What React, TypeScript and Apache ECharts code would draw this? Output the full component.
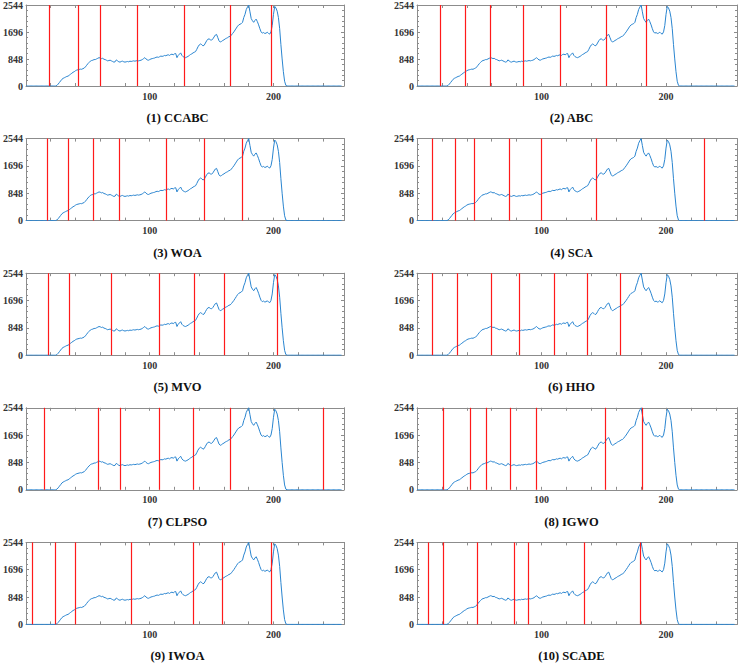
import React, { useEffect, useRef } from "react";
import * as echarts from "echarts";

// Histogram counts for gray levels 0..255
const histogram: number[] = [
  0, 0, 0, 0, 0, 0, 0, 0, 0, 0, 0, 0, 0, 0, 0, 0, 0, 0, 0, 0, 0, 0, 0, 0, 0,
  20, 60, 110, 160, 210, 240, 260, 280, 300, 310, 340,
  370, 400, 430, 450, 480, 500, 510, 520, 530, 525,
  545, 560, 600, 650, 700, 740, 780, 800, 810, 830,
  830, 850, 870, 890, 880, 860, 870, 840, 830, 810,
  790, 800, 810, 790, 770, 750, 760, 820, 790, 760,
  750, 770, 780, 760, 750, 760, 770, 760, 780, 770,
  780, 790, 780, 790, 800, 790, 800, 810, 830, 860,
  890, 850, 820, 810, 830, 850, 860, 870, 880, 900,
  910, 900, 920, 940, 930, 940, 960, 950, 970, 980,
  960, 990, 1000, 980, 1010, 1020, 890, 960, 1000, 1040,
  960, 920, 900, 890, 910, 930, 960, 990, 1010, 1040,
  1060, 1080, 1150, 1230, 1290, 1320, 1300, 1260, 1280, 1350,
  1420, 1470, 1480, 1450, 1440, 1480, 1540, 1600, 1620, 1520,
  1420, 1380, 1400, 1430, 1450, 1480, 1500, 1520, 1550, 1560,
  1600, 1650, 1700, 1760, 1820, 1880, 1920, 1940, 1960, 2000,
  2150, 2250, 2400, 2480, 2544, 2330, 2120, 2050, 2000, 2060,
  2100, 2020, 1920, 1800, 1700, 1660, 1680, 1650, 1660, 1690,
  1650, 1630, 1700, 1900, 2250, 2500, 2450, 2350, 2150, 1800,
  1300, 850, 450, 150, 20, 0, 0, 0, 0, 0,
  0, 0, 0, 0, 0, 0, 0, 0, 0, 0, 0, 0, 0, 0, 0, 0, 0, 0, 0, 0,
  0, 0, 0, 0, 0, 0, 0, 0, 0, 0, 0, 0, 0, 0, 0, 0, 0, 0, 0, 0,
];

const panelTitles: string[] = [
  "(1) CCABC", "(2) ABC", "(3) WOA", "(4) SCA", "(5) MVO",
  "(6) HHO", "(7) CLPSO", "(8) IGWO", "(9) IWOA", "(10) SCADE",
];

const thresholds: number[][] = [
  [19, 42, 60, 90, 128, 165, 198],
  [19, 39, 59, 85, 115, 152, 184],
  [17, 34, 54, 75, 113, 144, 175],
  [12, 31, 46, 74, 100, 144, 231],
  [18, 35, 69, 108, 136, 160, 203],
  [12, 32, 60, 82, 110, 137, 163],
  [15, 58, 76, 108, 135, 165, 240],
  [21, 43, 56, 75, 96, 151, 181],
  [5, 24, 40, 85, 135, 159, 198],
  [9, 21, 48, 78, 89, 134, 179],
];

const yTicks: number[] = [0, 848, 1696, 2544];
const xLabelValues: number[] = [100, 200];

const X_MAX = 257;
const Y_MAX = 2544;

export default function App() {
  const ref = useRef<HTMLDivElement>(null);

  useEffect(() => {
    if (!ref.current) return;
    const chart = echarts.init(ref.current, undefined, { renderer: "svg" });

    const frame = "#8c8c8c";
    const font = "'Liberation Serif', 'Times New Roman', 'DejaVu Serif', serif";
    const colLeft = [23, 417];
    const plotW = 321;
    const plotH = 82;
    const rowTop = (r: number) => 4 + r * 134.6;

    const grids: any[] = [];
    const xAxes: any[] = [];
    const yAxes: any[] = [];
    const series: any[] = [];
    const graphics: any[] = [];

    const histData = histogram.map((v, i) => [i, v]);

    panelTitles.forEach((title, i) => {
      const col = i % 2;
      const row = Math.floor(i / 2);
      const left = colLeft[col];
      const top = rowTop(row);
      grids.push({ left, top, width: plotW, height: plotH, containLabel: false });

      const tickStyle = { show: true, inside: true, length: 3, lineStyle: { color: frame, width: 1 } };
      const lineStyle = { show: true, onZero: false, lineStyle: { color: frame, width: 1 } };
      const minor = { show: true, splitNumber: 5, length: 2, lineStyle: { color: frame, width: 1 } };

      xAxes.push({
        type: "value", gridIndex: i, position: "bottom", min: 0, max: X_MAX, interval: 20,
        axisLine: lineStyle, axisTick: tickStyle, splitLine: { show: false },
        axisLabel: {
          show: true, margin: 5, fontSize: 10, fontFamily: font, fontWeight: "bold", color: "#333",
          formatter: (v: number) => (xLabelValues.includes(v) ? String(v) : ""),
        },
      });
      xAxes.push({
        type: "value", gridIndex: i, position: "top", min: 0, max: X_MAX, interval: 20,
        axisLine: lineStyle, axisTick: tickStyle, splitLine: { show: false },
        axisLabel: { show: false },
      });
      yAxes.push({
        type: "value", gridIndex: i, position: "left", min: 0, max: Y_MAX, interval: yTicks[1],
        axisLine: lineStyle, axisTick: tickStyle, minorTick: minor,
        splitLine: { show: false },
        axisLabel: {
          show: true, margin: 3, fontSize: 10, fontFamily: font, fontWeight: "bold", color: "#333",
          formatter: (v: number) => (yTicks.includes(v) ? String(v) : ""),
        },
      });
      yAxes.push({
        type: "value", gridIndex: i, position: "right", min: 0, max: Y_MAX, interval: yTicks[1],
        axisLine: lineStyle, axisTick: tickStyle, minorTick: minor,
        splitLine: { show: false },
        axisLabel: { show: false },
      });

      series.push({
        type: "line", xAxisIndex: i * 2, yAxisIndex: i * 2, data: histData,
        showSymbol: false, symbol: "none", lineStyle: { color: "#2a85d0", width: 1 },
        itemStyle: { color: "#2a85d0" }, z: 2,
        markLine: {
          silent: true, symbol: ["none", "none"], label: { show: false },
          lineStyle: { color: "#ff1a1a", width: 1.2, type: "solid" },
          data: thresholds[i].map((t) => ({ xAxis: t })),
          z: 3,
        },
      });

      graphics.push({
        type: "text", x: left + plotW / 2 - 6, y: top + 114,
        style: {
          text: title, fontSize: 12.5, fontFamily: font, fontWeight: "bold", fill: "#111",
          textAlign: "center", textVerticalAlign: "middle",
        },
      });
    });

    chart.setOption({
      animation: false,
      backgroundColor: "#ffffff",
      grid: grids,
      xAxis: xAxes,
      yAxis: yAxes,
      series,
      graphic: graphics,
    });

    return () => chart.dispose();
  }, []);

  return (
    <div
      ref={ref}
      style={{ position: "absolute", left: 0, top: 0, width: 740, height: 665, background: "#fff" }}
    />
  );
}
